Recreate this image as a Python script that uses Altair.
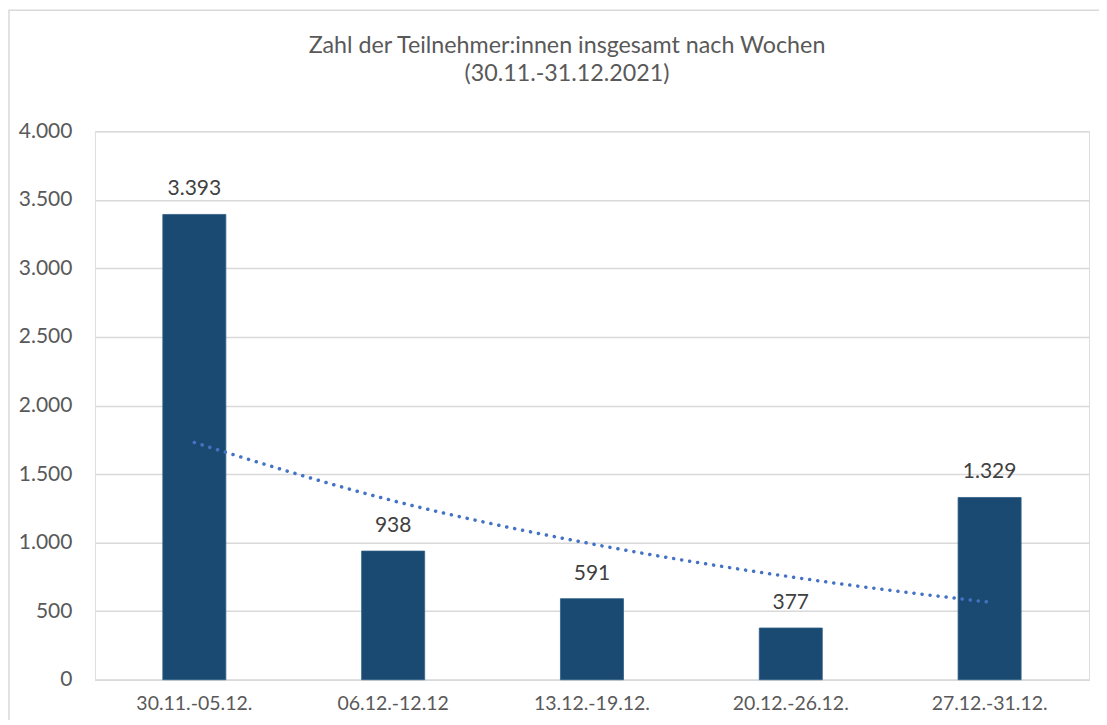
import altair as alt
import pandas as pd

weeks = ["30.11.-05.12.", "06.12.-12.12", "13.12.-19.12.", "20.12.-26.12.", "27.12.-31.12."]
participants = [3393, 938, 591, 377, 1329]
trend = [1730, 1305, 990, 750, 565]
y_ticks = [0, 500, 1000, 1500, 2000, 2500, 3000, 3500, 4000]
title_lines = ["Zahl der Teilnehmer:innen insgesamt nach Wochen", "(30.11.-31.12.2021)"]

df = pd.DataFrame({"week": weeks, "value": participants, "trend": trend})

FONT = "Lato"
TXT = "#595959"
GRID = "#d9d9d9"

x_enc = alt.X("week:N", sort=weeks, title=None,
              scale=alt.Scale(paddingInner=0.683, paddingOuter=0.3415),
              axis=alt.Axis(labelAngle=0, labelFontSize=19.5, labelColor=TXT, labelFont=FONT,
                            labelPadding=15, ticks=False, domainColor=GRID, domainWidth=1.5,
                            grid=False))
y_scale = alt.Scale(domain=[0, 4000], nice=False)

base = alt.Chart(df)

bars = base.mark_bar(color="#1a4a71", stroke="#2f5f86", strokeWidth=0.8).encode(
    x=x_enc,
    y=alt.Y("value:Q", scale=y_scale, title=None,
            axis=alt.Axis(values=y_ticks, labelFontSize=21, labelColor=TXT, labelFont=FONT,
                          labelPadding=23, ticks=False, domain=False, gridColor=GRID,
                          gridWidth=1.5,
                          labelExpr="replace(format(datum.value, ','), ',', '.')")),
)

labels = base.transform_calculate(
    lab="replace(format(datum.value, ','), ',', '.')"
).mark_text(font=FONT, fontSize=21, color="#404040", baseline="alphabetic", dy=-19).encode(
    x=alt.X("week:N", sort=weeks),
    y=alt.Y("value:Q", scale=y_scale),
    text="lab:N",
)

trend_line = base.mark_line(color="#4472c4", strokeWidth=3.5, strokeDash=[0.1, 8],
                            strokeCap="round", interpolate="monotone").encode(
    x=alt.X("week:N", sort=weeks),
    y=alt.Y("trend:Q", scale=y_scale),
)

border = alt.Chart(pd.DataFrame({"a": [0]})).mark_rect(
    fill=None, stroke=GRID, strokeWidth=1.5, clip=False
).encode(
    x=alt.value(-86), x2=alt.value(1100), y=alt.value(-121), y2=alt.value(700)
)

chart = alt.layer(border, bars, trend_line, labels).properties(
    width=995,
    height=549,
    autosize=alt.AutoSizeParams(type="none"),
    padding={"left": 87, "top": 123, "right": 10, "bottom": 40},
    title=alt.TitleParams(text=title_lines, fontSize=23.3, font=FONT, color=TXT,
                          fontWeight="normal", lineHeight=28, anchor="middle",
                          frame="group", dx=-25, offset=-77),
).configure_view(stroke=None).configure(background="white")

chart.save("out.html", embed_options={"renderer": "svg", "actions": False})
